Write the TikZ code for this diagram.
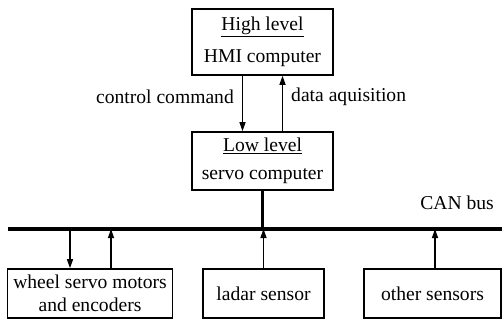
\documentclass[tikz,border=0pt]{standalone}
\usepackage{fontspec}
\setmainfont{Liberation Serif}
\usetikzlibrary{arrows.meta}
\tikzset{
  box/.style={draw,line width=1.6pt,inner sep=0pt,align=center},
  sig/.style={-{Triangle[length=9pt,width=6pt]},line width=1.3pt},
  bus/.style={line width=4pt},
  lbl/.style={inner sep=0pt}
}
\begin{document}
\begin{tikzpicture}[x=1pt,y=-1pt,font=\fontsize{19.6}{23}\selectfont]
\useasboundingbox (0,0) rectangle (502,320);
% computers
\node[box,minimum width=141pt,minimum height=66pt] (hi) at (262.5,42)
  {\underline{High level}\\[9pt]HMI computer};
\node[box,minimum width=141pt,minimum height=58pt] (lo) at (262.5,161)
  {\underline{Low level}\\[5pt]servo computer};
\draw[sig] ([xshift=-20pt]hi.south) -- ([xshift=-20pt]lo.north);
\draw[sig] ([xshift=20pt]lo.north) -- ([xshift=20pt]hi.south);
\node[lbl,anchor=east] (cmd) at (234,97) {control command};
\node[lbl,anchor=west] (acq) at (291,97) {data aquisition};
% CAN bus
\coordinate (busL) at (8,229);
\coordinate (busR) at (502,229);
\draw[bus] (busL) -- (busR);
\node[lbl,anchor=east] (can) at (494,203) {CAN bus};
\draw[line width=3pt] (lo.south) -- (lo.south |- busL);
% devices
\node[box,minimum width=165pt,minimum height=49pt] (wheel) at (90,293.5)
  {wheel servo motors\\and encoders};
\node[box,minimum width=121pt,minimum height=49pt] (ladar) at (263.5,293.5)
  {ladar sensor};
\node[box,minimum width=137pt,minimum height=49pt] (other) at (432.5,293.5)
  {other sensors};
\coordinate (w1) at (70,229);
\coordinate (w2) at (111,229);
\coordinate (l1) at (263.5,229);
\coordinate (o1) at (435,229);
\draw[sig] (w1) -- (w1 |- wheel.north);
\draw[sig] (w2 |- wheel.north) -- (w2);
\draw[sig] (l1 |- ladar.north) -- (l1);
\draw[sig] (o1 |- other.north) -- (o1);
\end{tikzpicture}
\end{document}
